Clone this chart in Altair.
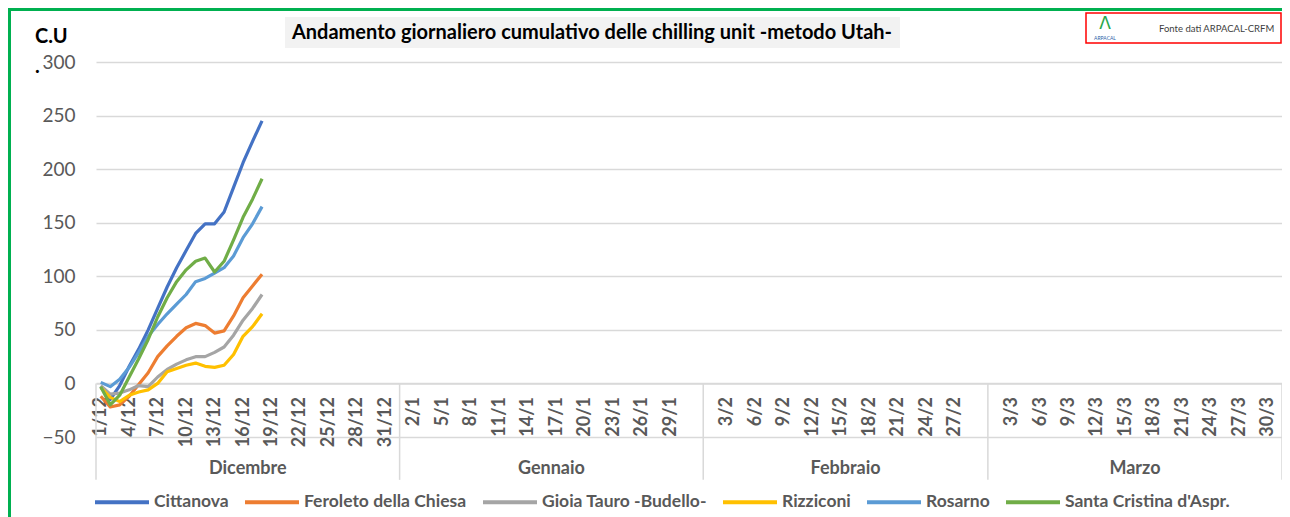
import json
import altair as alt
import pandas as pd

# ---------------- data ----------------
stations = ["Cittanova", "Feroleto della Chiesa", "Gioia Tauro -Budello-",
            "Rizziconi", "Rosarno", "Santa Cristina d'Aspr."]
colors = ["#4472c4", "#ed7d31", "#a5a5a5", "#ffc000", "#5b9bd5", "#70ad47"]

# daily values, 1/12 .. 18/12
dec_days = list(range(1, 19))
cittanova = [-3, -15, -2, 16, 32, 50, 70, 90, 108, 124, 140, 149, 149, 160, 183, 206, 226, 245]
feroleto = [-12, -22, -20, -12, -1, 10, 25, 35, 44, 52, 56, 54, 47, 49, 63, 80, 91, 102]
gioia = [-2, -10, -9, -6, -2, -3, 6, 13, 18, 22, 25, 25, 29, 34, 45, 59, 70, 83]
rizziconi = [-4, -13, -17, -11, -8, -6, 0, 11, 14, 17, 19, 16, 15, 17, 27, 44, 53, 65]
rosarno = [1, -3, 4, 15, 29, 44, 55, 65, 74, 83, 95, 98, 103, 108, 119, 136, 149, 165]
santa = [-3, -20, -11, 6, 23, 41, 62, 80, 95, 106, 114, 117, 104, 114, 134, 155, 172, 191]
series = [cittanova, feroleto, gioia, rizziconi, rosarno, santa]

months = ["Dicembre", "Gennaio", "Febbraio", "Marzo"]
month_num = [12, 1, 2, 3]
month_days = [31, 31, 29, 31]
tick_step = 3
y_ticks = [-50, 0, 50, 100, 150, 200, 250, 300]

title_text = "Andamento giornaliero cumulativo delle chilling unit -metodo Utah-"
source_text = "Fonte dati ARPACAL-CRFM"

# ---------------- category axis (month blocks with a spacer slot) ----------------
cat_labels = []
bounds = [-0.5]
for i, (m, nd) in enumerate(zip(month_num, month_days)):
    cat_labels += [f"{d}/{m}" for d in range(1, nd + 1)]
    if i < len(months) - 1:
        cat_labels.append("")
    bounds.append(len(cat_labels) - 0.5)
n_cat = len(cat_labels)
tick_idx = list(range(0, n_cat, tick_step))
centers = [(bounds[i] + bounds[i + 1]) / 2 for i in range(len(months))]

rows = []
for name, vals in zip(stations, series):
    for d, v in zip(dec_days, vals):
        rows.append({"idx": d - 1, "station": name, "cu": v})
df = pd.DataFrame(rows)
df_months = pd.DataFrame({"month": months, "idx": centers})
df_bounds = pd.DataFrame({"idx": bounds})

FONT = "Lato"
GREY = "#595959"
GRID = "#d9d9d9"

xscale = alt.Scale(domain=[-0.5, n_cat - 0.5], nice=False, zero=False)
yscale = alt.Scale(domain=[-50, 300], nice=False, zero=False)
xaxis = alt.Axis(values=tick_idx, labelExpr=f"{json.dumps(cat_labels)}[datum.value]",
                 labelAngle=-90, labelAlign="right", labelBaseline="middle",
                 grid=False, ticks=False, domain=True, domainColor=GRID, domainWidth=1.3,
                 offset=-53.5, labelPadding=13, labelFont=FONT, labelFontSize=18,
                 labelFontWeight="bold", labelColor=GREY, labelOverlap=False,
                 labelFlush=False, labelBound=False, title=None)
yaxis = alt.Axis(values=y_ticks, grid=True, gridColor=GRID, gridWidth=1.3, ticks=False,
                 domain=False, labelPadding=21, labelFont=FONT, labelFontSize=19,
                 labelColor=GREY, title=None)

X = lambda f: alt.X(f, type="quantitative", scale=xscale, axis=xaxis)

one = pd.DataFrame({"k": [0]})

# title box + title
title_box = alt.Chart(one).mark_rect(color="#f2f2f2").encode(
    x=alt.value(189), x2=alt.value(804), y=alt.value(-45), y2=alt.value(-14))
title = alt.Chart(one).mark_text(font=FONT, fontSize=20, fontWeight="bold", color="#000000",
                                 align="center", baseline="middle").encode(
    x=alt.value(496), y=alt.value(-29.5), text=alt.value(title_text))

# y-axis unit label
unit = alt.Chart(one).mark_text(font=FONT, fontSize=20, fontWeight="bold", color="#000000",
                                align="left", baseline="alphabetic", lineHeight=30).encode(
    x=alt.value(-61), y=alt.value(-19), text=alt.value(["C.U", "."]))

# source box
src_box = alt.Chart(one).mark_rect(fill="white", stroke="#ff0000", strokeWidth=1.5).encode(
    x=alt.value(990), x2=alt.value(1185), y=alt.value(-49), y2=alt.value(-19))
logo = alt.Chart(one).mark_text(font="DejaVu Sans", fontSize=17, color="#2aa84a",
                                align="center", baseline="middle").encode(
    x=alt.value(1009), y=alt.value(-38), text=alt.value("Λ"))
logo_txt = alt.Chart(one).mark_text(font=FONT, fontSize=5, color="#2e5fa8",
                                    align="center", baseline="middle").encode(
    x=alt.value(1009), y=alt.value(-24), text=alt.value("ARPACAL"))
src = alt.Chart(one).mark_text(font=FONT, fontSize=9.5, color="#404040",
                               align="left", baseline="middle").encode(
    x=alt.value(1063), y=alt.value(-33), text=alt.value(source_text))

# green frame
frame_left = alt.Chart(one).mark_rule(color="#00b050", strokeWidth=3).encode(
    x=alt.value(-86.5), y=alt.value(-54), y2=alt.value(460))
frame_top = alt.Chart(one).mark_rule(color="#00b050", strokeWidth=3).encode(
    x=alt.value(-88), x2=alt.value(1186), y=alt.value(-52.5))

# month separators and names
seps = alt.Chart(df_bounds).mark_rule(color=GRID, strokeWidth=1.5).encode(
    x=X("idx"),
    y=alt.YDatum(0, type="quantitative", scale=yscale, axis=yaxis),
    y2=alt.Y2Datum(-90))
month_text = alt.Chart(df_months).mark_text(font=FONT, fontSize=18, fontWeight="bold",
                                            color=GREY, baseline="middle").encode(
    x=X("idx"),
    y=alt.YDatum(-80, type="quantitative", scale=yscale, axis=yaxis),
    text="month:N")

lines = alt.Chart(df).mark_line(strokeWidth=3.2, strokeJoin="round").encode(
    x=X("idx"),
    y=alt.Y("cu", type="quantitative", scale=yscale, axis=yaxis),
    color=alt.Color("station:N", sort=stations,
                    scale=alt.Scale(domain=stations, range=colors),
                    legend=alt.Legend(orient="none", legendX=-3, legendY=411,
                                      direction="horizontal", columns=6, title=None,
                                      symbolType="stroke", symbolSize=2916,
                                      symbolStrokeWidth=4, labelFont=FONT,
                                      labelFontSize=17.5, labelFontWeight="bold",
                                      labelColor=GREY, labelOffset=3, labelLimit=400,
                                      columnPadding=8)),
)

chart = alt.layer(
    frame_left, frame_top, title_box, title, unit, src_box, logo, logo_txt, src,
    seps, month_text, lines
).properties(
    width=1186, height=375,
    padding={"left": 88, "top": 54, "right": 0, "bottom": 80},
    autosize=alt.AutoSizeParams(type="none"),
    background="white",
).configure_view(stroke=None)

chart.save("out.html", embed_options={"renderer": "svg", "actions": False})
